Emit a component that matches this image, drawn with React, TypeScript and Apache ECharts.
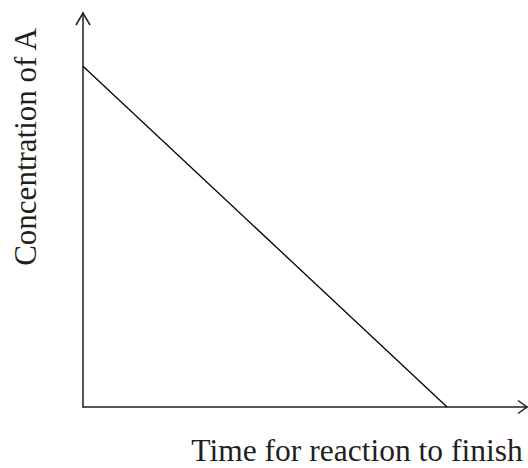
import React, { useEffect, useRef } from "react";
import * as echarts from "echarts";

const xAxisTitle = "Time for reaction to finish";
const yAxisTitle = "Concentration of A";
const timeValues = [0, 8.2];
const concentrationValues = [8.65, 0];

export default function App() {
  const ref = useRef<HTMLDivElement>(null);
  useEffect(() => {
    const chart = echarts.init(ref.current!, null, { renderer: "svg" });
    const ink = "#231f20";
    chart.setOption({
      animation: false,
      backgroundColor: "#ffffff",
      grid: { left: 83, right: 1, top: 13, bottom: 61, containLabel: false },
      xAxis: {
        type: "value",
        min: 0,
        max: 10,
        axisLine: { show: true, onZero: false, lineStyle: { color: ink, width: 1.5 } },
        axisTick: { show: false },
        axisLabel: { show: false },
        splitLine: { show: false },
      },
      yAxis: {
        type: "value",
        min: 0,
        max: 10,
        axisLine: { show: true, onZero: false, lineStyle: { color: ink, width: 1.5 } },
        axisTick: { show: false },
        axisLabel: { show: false },
        splitLine: { show: false },
      },
      series: [
        {
          type: "line",
          data: timeValues.map((t, i) => [t, concentrationValues[i]]),
          showSymbol: false,
          lineStyle: { color: "#000000", width: 1.3 },
        },
      ],
      graphic: [
        {
          type: "polyline",
          shape: { points: [[76, 25], [83, 13], [90, 25]] },
          style: { stroke: ink, lineWidth: 1.5, fill: "none" },
        },
        {
          type: "polyline",
          shape: { points: [[518, 400.5], [527, 407], [518, 413.5]] },
          style: { stroke: ink, lineWidth: 1.5, fill: "none" },
        },
        {
          type: "text",
          x: 357,
          y: 450,
          style: {
            text: xAxisTitle,
            font: "31.5px 'Liberation Serif', 'Times New Roman', serif",
            fill: ink,
            align: "center",
            verticalAlign: "middle",
          },
        },
        {
          type: "text",
          x: 25,
          y: 147,
          rotation: Math.PI / 2,
          style: {
            text: yAxisTitle,
            font: "31px 'Liberation Serif', 'Times New Roman', serif",
            fill: ink,
            align: "center",
            verticalAlign: "middle",
          },
        },
      ],
    });
    return () => chart.dispose();
  }, []);
  return <div ref={ref} style={{ width: 528, height: 468, position: "fixed", left: 0, top: 0 }} />;
}
